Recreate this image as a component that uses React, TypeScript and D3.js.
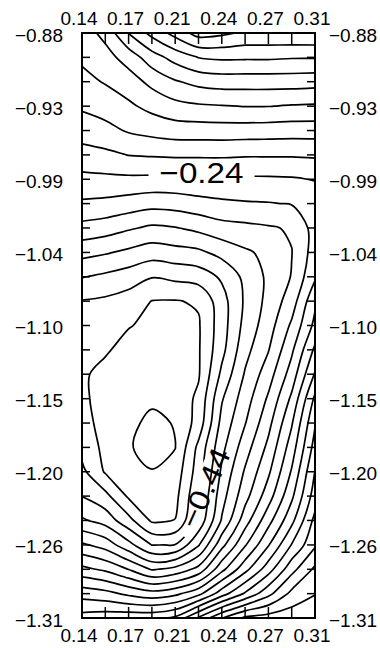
import React, { useEffect } from 'react';
import * as d3 from 'd3';

// Axis tick labels (as printed)
const xLabels = ['0.14', '0.17', '0.21', '0.24', '0.27', '0.31'];
const yLabels = ['-0.88', '-0.93', '-0.99', '-1.04', '-1.10', '-1.15', '-1.20', '-1.26', '-1.31'];

// Sample grid (columns = x, rows = y, top to bottom)
const gridX = [0.14, 0.157, 0.174, 0.191, 0.208, 0.225, 0.242, 0.259, 0.276, 0.293, 0.31];
const gridY = [
  -0.88, -0.8979, -0.9158, -0.9338, -0.9517, -0.9696, -0.9875, -1.0054, -1.0233, -1.0413,
  -1.0592, -1.0771, -1.095, -1.1129, -1.1308, -1.1488, -1.1667, -1.1846, -1.2025, -1.2204,
  -1.2383, -1.2563, -1.2742, -1.2921, -1.31,
];

// Field values (one row per gridY value)
const zRows = [
  [-0.100, -0.068, 0.001, 0.052, 0.094, 0.136, 0.128, 0.114, 0.114, 0.115, 0.116],
  [-0.113, -0.095, -0.063, -0.018, 0.015, 0.041, 0.047, 0.046, 0.046, 0.043, 0.043],
  [-0.132, -0.117, -0.099, -0.069, -0.044, -0.028, -0.022, -0.022, -0.022, -0.022, -0.025],
  [-0.154, -0.143, -0.127, -0.108, -0.092, -0.085, -0.082, -0.079, -0.079, -0.083, -0.085],
  [-0.182, -0.172, -0.156, -0.147, -0.140, -0.139, -0.138, -0.139, -0.140, -0.142, -0.142],
  [-0.215, -0.209, -0.199, -0.196, -0.194, -0.194, -0.194, -0.196, -0.196, -0.196, -0.194],
  [-0.251, -0.249, -0.248, -0.249, -0.249, -0.246, -0.245, -0.246, -0.246, -0.244, -0.238],
  [-0.286, -0.290, -0.298, -0.306, -0.303, -0.295, -0.288, -0.284, -0.282, -0.278, -0.264],
  [-0.333, -0.341, -0.355, -0.367, -0.362, -0.350, -0.335, -0.330, -0.324, -0.316, -0.264],
  [-0.387, -0.396, -0.408, -0.421, -0.414, -0.408, -0.387, -0.366, -0.350, -0.321, -0.262],
  [-0.438, -0.448, -0.460, -0.478, -0.470, -0.462, -0.434, -0.390, -0.352, -0.318, -0.246],
  [-0.482, -0.487, -0.498, -0.521, -0.522, -0.516, -0.456, -0.394, -0.348, -0.300, -0.208],
  [-0.502, -0.510, -0.518, -0.528, -0.528, -0.524, -0.458, -0.387, -0.338, -0.273, -0.189],
  [-0.512, -0.516, -0.532, -0.534, -0.532, -0.524, -0.452, -0.373, -0.322, -0.247, -0.152],
  [-0.515, -0.530, -0.538, -0.542, -0.538, -0.524, -0.431, -0.356, -0.298, -0.222, -0.116],
  [-0.514, -0.532, -0.544, -0.554, -0.546, -0.512, -0.404, -0.339, -0.274, -0.192, -0.072],
  [-0.508, -0.532, -0.552, -0.568, -0.558, -0.504, -0.387, -0.322, -0.252, -0.164, -0.044],
  [-0.494, -0.530, -0.556, -0.576, -0.561, -0.470, -0.371, -0.298, -0.230, -0.140, -0.024],
  [-0.470, -0.524, -0.544, -0.558, -0.544, -0.460, -0.353, -0.275, -0.207, -0.116, 0.001],
  [-0.441, -0.468, -0.526, -0.540, -0.532, -0.445, -0.336, -0.254, -0.178, -0.088, 0.020],
  [-0.394, -0.416, -0.467, -0.526, -0.519, -0.430, -0.316, -0.218, -0.134, -0.051, 0.052],
  [-0.313, -0.337, -0.387, -0.441, -0.439, -0.364, -0.253, -0.164, -0.083, 0.002, 0.074],
  [-0.229, -0.248, -0.281, -0.324, -0.308, -0.267, -0.172, -0.093, -0.018, 0.066, 0.128],
  [-0.136, -0.147, -0.169, -0.185, -0.170, -0.132, -0.058, 0.005, 0.068, 0.131, 0.158],
  [-0.064, -0.056, -0.052, -0.050, -0.032, 0.046, 0.118, 0.168, 0.178, 0.184, 0.192],
];

// Contour levels
const levels = [
  -0.56, -0.52, -0.48, -0.44, -0.40, -0.36, -0.32, -0.28, -0.24, -0.20,
  -0.16, -0.12, -0.08, -0.04, 0.0, 0.04, 0.08, 0.12, 0.16,
];

// In-line contour labels
const labelValues = [-0.24, -0.44];
const labelTexts = ['\u22120.24', '\u22120.44'];
const labelX = [0.2272, 0.2297];
const labelY = [-0.9829, -1.2144];
const labelAngle = [0, -66];

export default function App() {
  useEffect(() => {
    document.body.style.margin = '0';
  }, []);

  const W = 380;
  const H = 648;
  const x = d3.scaleLinear().domain([0.14, 0.31]).range([82, 315]);
  const y = d3.scaleLinear().domain([-0.88, -1.31]).range([33, 618]);
  const [x0, x1] = x.range();
  const [y0, y1] = y.range();

  const nx = gridX.length;
  const ny = gridY.length;
  const gx = d3.scaleLinear().domain([0.5, nx - 0.5]).range([gridX[0], gridX[nx - 1]]);
  const gy = d3.scaleLinear().domain([0.5, ny - 0.5]).range([gridY[0], gridY[ny - 1]]);

  const values = zRows.flat();
  const contours = d3.contours().size([nx, ny]).thresholds(levels)(values);

  const lineOpen = d3
    .line<number[]>()
    .x((p) => x(gx(p[0])))
    .y((p) => y(gy(p[1])))
    .curve(d3.curveCatmullRom.alpha(0.5));
  const lineClosed = d3
    .line<number[]>()
    .x((p) => x(gx(p[0])))
    .y((p) => y(gy(p[1])))
    .curve(d3.curveCatmullRomClosed.alpha(0.5));

  const isB = (p: number[]) => p[0] <= 0 || p[0] >= nx || p[1] <= 0 || p[1] >= ny;

  const paths = contours.map((c) => {
    const ds: string[] = [];
    c.coordinates.forEach((poly) =>
      poly.forEach((ring) => {
        const pts = ring.slice(0, -1);
        const start = pts.findIndex(isB);
        if (start < 0) {
          if (pts.length > 2) ds.push(lineClosed(pts) || '');
          return;
        }
        const rot = pts.slice(start).concat(pts.slice(0, start));
        let run: number[][] = [];
        for (const p of rot) {
          if (isB(p)) {
            if (run.length > 1) ds.push(lineOpen(run) || '');
            run = [];
          } else run.push(p);
        }
        if (run.length > 1) ds.push(lineOpen(run) || '');
      })
    );
    const li = labelValues.findIndex((v) => Math.abs(v - c.value) < 1e-6);
    return { value: c.value, d: ds.join(''), li };
  });

  const font = "'Liberation Sans', Arial, Helvetica, sans-serif";
  const xTickIdx = d3.scaleLinear().domain([0, xLabels.length - 1]).range(x.domain());
  const yTickIdx = d3.scaleLinear().domain([0, yLabels.length - 1]).range(y.domain());

  return (
    <svg width={W} height={H} style={{ display: 'block', background: '#fff' }}>
      <defs>
        <clipPath id="plotclip">
          <rect x={x0} y={y0} width={x1 - x0} height={y1 - y0} />
        </clipPath>
        {labelValues.map((v, i) => {
          const cx = x(labelX[i]);
          const cy = y(labelY[i]);
          return (
            <mask id={`lm${i}`} key={i} maskUnits="userSpaceOnUse" x={0} y={0} width={W} height={H}>
              <rect x={0} y={0} width={W} height={H} fill="#fff" />
              <rect
                x={cx - 53}
                y={cy - 12}
                width={106}
                height={24}
                fill="#000"
                transform={`rotate(${labelAngle[i]} ${cx} ${cy})`}
              />
            </mask>
          );
        })}
      </defs>
      <rect x={0} y={0} width={W} height={H} fill="#fff" />
      <g clipPath="url(#plotclip)">
        {paths.map((p, i) => (
          <path
            key={i}
            d={p.d}
            fill="none"
            stroke="#000"
            strokeWidth={1.7}
            strokeLinejoin="round"
            mask={p.li >= 0 ? `url(#lm${p.li})` : undefined}
          />
        ))}
      </g>
      {labelValues.map((v, i) => {
        const cx = x(labelX[i]);
        const cy = y(labelY[i]);
        return (
          <text
            key={i}
            x={cx}
            y={cy}
            transform={`rotate(${labelAngle[i]} ${cx} ${cy})`}
            textAnchor="middle"
            dominantBaseline="central"
            fontFamily={font}
            fontSize={29}
            textLength={84}
            lengthAdjust="spacingAndGlyphs"
            fill="#000"
          >
            {labelTexts[i]}
          </text>
        );
      })}
      {/* frame */}
      <rect x={x0} y={y0} width={x1 - x0} height={y1 - y0} fill="none" stroke="#000" strokeWidth={2} />
      {/* minor ticks */}
      {gridX.slice(1, -1).map((v, i) => (
        <g key={`xt${i}`} stroke="#000" strokeWidth={1.5}>
          <line x1={x(v)} x2={x(v)} y1={y0} y2={y0 + 11} />
          <line x1={x(v)} x2={x(v)} y1={y1} y2={y1 - 11} />
        </g>
      ))}
      {gridY.slice(1, -1).map((v, i) => (
        <g key={`yt${i}`} stroke="#000" strokeWidth={1.5}>
          <line x1={x0} x2={x0 + 8} y1={y(v)} y2={y(v)} />
          <line x1={x1} x2={x1 - 8} y1={y(v)} y2={y(v)} />
        </g>
      ))}
      {/* x labels top & bottom */}
      {xLabels.map((t, i) => (
        <g key={`xl${i}`} fontFamily={font} fontSize={19} fill="#000" textAnchor="middle">
          <text x={x(xTickIdx(i)) - 3} y={25}>{t}</text>
          <text x={x(xTickIdx(i)) - 3} y={642}>{t}</text>
        </g>
      ))}
      {/* y labels left & right */}
      {yLabels.map((t, i) => (
        <g key={`yl${i}`} fontFamily={font} fontSize={19} fill="#000" dominantBaseline="central">
          <text x={63} y={y(yTickIdx(i)) + 2} textAnchor="end">{t.replace('-', '\u2212')}</text>
          <text x={329} y={y(yTickIdx(i)) + 2} textAnchor="start">{t.replace('-', '\u2212')}</text>
        </g>
      ))}
    </svg>
  );
}
